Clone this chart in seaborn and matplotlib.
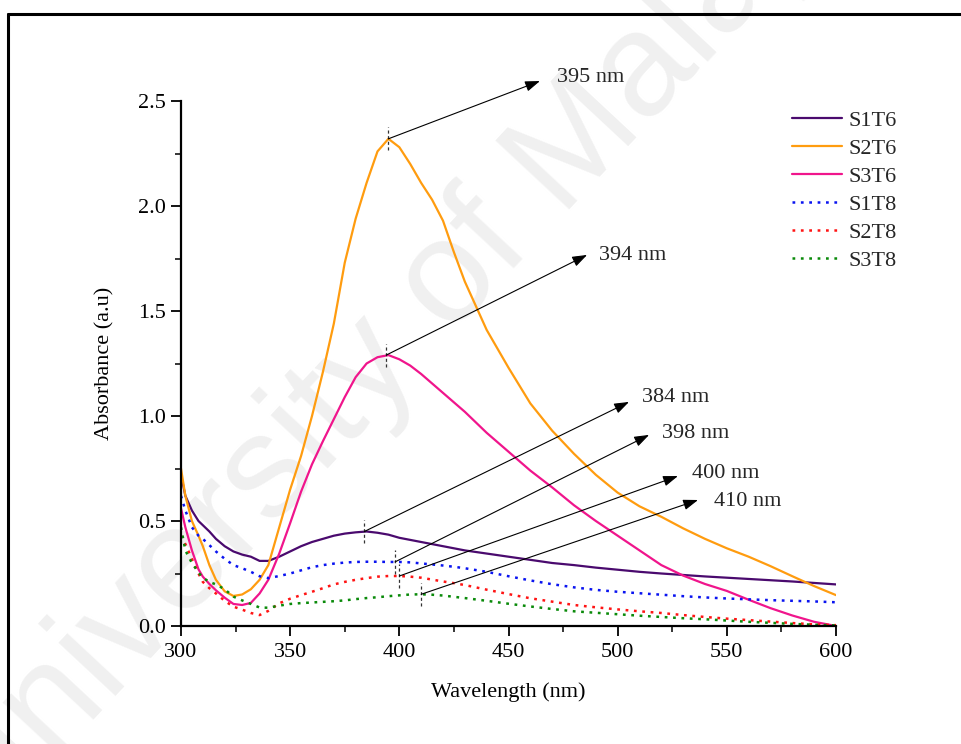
import numpy as np
import pandas as pd
import matplotlib
matplotlib.use("Agg")
import matplotlib.pyplot as plt
from matplotlib.lines import Line2D
from matplotlib.ticker import MultipleLocator
import seaborn as sns

# ---------------- data ----------------
wavelength = [300, 302, 305, 308, 310, 313, 316, 320, 324, 328, 332, 336, 340, 345,
              350, 355, 360, 365, 370, 375, 380, 385, 390, 395, 400, 405, 410, 415, 420,
              425, 430, 440, 450, 460, 470, 480, 490, 500, 510, 520, 530, 540, 550, 560,
              570, 580, 590, 600]

s1t6 = [0.72, 0.62, 0.55, 0.50, 0.48, 0.45, 0.415, 0.38, 0.355, 0.34, 0.33, 0.31, 0.31, 0.33,
        0.355, 0.38, 0.40, 0.415, 0.43, 0.44, 0.446, 0.45, 0.444, 0.435, 0.42, 0.41, 0.40, 0.39, 0.38,
        0.37, 0.36, 0.345, 0.33, 0.315, 0.30, 0.29, 0.278, 0.268, 0.258, 0.25, 0.243, 0.236, 0.23, 0.224,
        0.218, 0.212, 0.205, 0.198]

s2t6 = [0.75, 0.62, 0.50, 0.43, 0.38, 0.29, 0.22, 0.165, 0.143, 0.15, 0.175, 0.22, 0.29, 0.47,
        0.65, 0.81, 1.00, 1.21, 1.44, 1.73, 1.94, 2.11, 2.26, 2.32, 2.28, 2.20, 2.11, 2.03, 1.93,
        1.78, 1.64, 1.41, 1.23, 1.06, 0.93, 0.82, 0.72, 0.635, 0.57, 0.52, 0.465, 0.415, 0.37, 0.33,
        0.285, 0.237, 0.19, 0.147]

s3t6 = [0.56, 0.47, 0.36, 0.27, 0.235, 0.20, 0.17, 0.135, 0.105, 0.10, 0.11, 0.155, 0.22, 0.345,
        0.49, 0.64, 0.77, 0.88, 0.985, 1.09, 1.185, 1.25, 1.28, 1.29, 1.27, 1.24, 1.20, 1.155, 1.11,
        1.065, 1.02, 0.92, 0.83, 0.74, 0.66, 0.575, 0.50, 0.43, 0.36, 0.29, 0.24, 0.20, 0.167, 0.125,
        0.085, 0.05, 0.02, 0.0]

s1t8 = [0.62, 0.55, 0.47, 0.43, 0.415, 0.385, 0.355, 0.32, 0.29, 0.275, 0.258, 0.237, 0.228, 0.238,
        0.25, 0.265, 0.28, 0.29, 0.297, 0.302, 0.305, 0.306, 0.306, 0.305, 0.305, 0.303, 0.298, 0.293, 0.288,
        0.282, 0.275, 0.258, 0.237, 0.217, 0.199, 0.184, 0.172, 0.163, 0.156, 0.149, 0.142, 0.136, 0.131, 0.127,
        0.123, 0.12, 0.117, 0.113]

s2t8 = [0.43, 0.39, 0.32, 0.25, 0.21, 0.18, 0.155, 0.12, 0.092, 0.078, 0.062, 0.052, 0.072, 0.108,
        0.13, 0.147, 0.163, 0.18, 0.198, 0.21, 0.22, 0.228, 0.235, 0.238, 0.238, 0.235, 0.23, 0.221, 0.212,
        0.204, 0.195, 0.173, 0.152, 0.132, 0.116, 0.10, 0.089, 0.079, 0.07, 0.062, 0.052, 0.043, 0.035, 0.028,
        0.021, 0.014, 0.008, 0.004]

s3t8 = [0.47, 0.36, 0.30, 0.255, 0.23, 0.21, 0.198, 0.175, 0.14, 0.122, 0.105, 0.088, 0.087, 0.097,
        0.105, 0.109, 0.112, 0.115, 0.118, 0.122, 0.128, 0.133, 0.137, 0.142, 0.146, 0.15, 0.151, 0.149, 0.145,
        0.139, 0.133, 0.12, 0.106, 0.093, 0.081, 0.07, 0.063, 0.056, 0.049, 0.043, 0.037, 0.032, 0.026, 0.02,
        0.015, 0.01, 0.006, 0.003]

series_names = ["S1T6", "S2T6", "S3T6", "S1T8", "S2T8", "S3T8"]

peak_labels = ["395 nm", "394 nm", "384 nm", "398 nm", "400 nm", "410 nm"]
peak_x = [395, 394, 384, 398, 400, 410]
peak_y = [2.32, 1.29, 0.45, 0.305, 0.238, 0.151]
tip_x = [464.4, 486.0, 505.2, 514.4, 527.6, 536.8]
tip_y = [2.595, 1.767, 1.067, 0.910, 0.714, 0.600]
label_x = [472.3, 491.3, 511.3, 520.4, 534.2, 544.1]
label_y = [2.612, 1.765, 1.090, 0.915, 0.724, 0.591]

x_ticks = [300, 350, 400, 450, 500, 550, 600]
y_ticks = [0.0, 0.5, 1.0, 1.5, 2.0, 2.5]

# ---------------- styling ----------------
sns.set_style("ticks")
plt.rcParams["font.family"] = ["Liberation Serif", "DejaVu Serif"]

FS = 16
colors = ["#4a0a6e", "#ff9c0f", "#f0158c", "#0a14f0", "#ff1414", "#0a8a0a"]
dotted = (0, (1.1, 2.25))
styles = ["-", "-", "-", dotted, dotted, dotted]
widths = [1.6, 1.6, 1.6, 1.8, 1.8, 1.8]

df = pd.DataFrame({"wavelength": wavelength, "S1T6": s1t6, "S2T6": s2t6, "S3T6": s3t6,
                   "S1T8": s1t8, "S2T8": s2t8, "S3T8": s3t8})
long = df.melt(id_vars="wavelength", var_name="sample", value_name="absorbance")

W, H = 961, 744
fig = plt.figure(figsize=(W / 100, H / 100), dpi=100)

# watermark
fig.text(405 / W, 1 - 330 / H, "University of Malaya", rotation=47, fontsize=106,
         color="#f0f0f0", ha="center", va="center", rotation_mode="anchor",
         family="Liberation Sans", zorder=-5)

# frame of the page
fig.add_artist(Line2D([8 / W, 8 / W], [0, 1 - 14 / H], transform=fig.transFigure,
                      color="black", lw=2.2))
fig.add_artist(Line2D([8 / W, 1], [1 - 14 / H, 1 - 14 / H], transform=fig.transFigure,
                      color="black", lw=2.2))

ax = fig.add_axes([181 / W, 118 / H, 655 / W, 525 / H])
ax.patch.set_alpha(0)

handles = []
for name, c, ls, lw in zip(series_names, colors, styles, widths):
    sub = long[long["sample"] == name]
    sns.lineplot(data=sub, x="wavelength", y="absorbance", ax=ax, color=c,
                 linestyle=ls, lw=lw, sort=False, legend=False)
    handles.append(ax.lines[-1])

# annotations
for lab, px, py, tx, ty, lx, ly in zip(peak_labels, peak_x, peak_y, tip_x, tip_y,
                                        label_x, label_y):
    ax.plot([px, px], [py - 0.055, py + 0.055], ls=(0, (2.5, 2.0)), color="#333333",
            lw=0.9, clip_on=False)
    ax.annotate("", xy=(tx, ty), xytext=(px, py), annotation_clip=False,
                arrowprops=dict(arrowstyle="-|>,head_length=0.9,head_width=0.32",
                                color="black", lw=0.8, shrinkA=0, shrinkB=0))
    ax.text(lx, ly, lab, fontsize=FS, ha="left", va="center", clip_on=False)

ax.set_xlim(300, 600)
ax.set_ylim(0, 2.5)
ax.set_xticks(x_ticks)
ax.set_yticks(y_ticks)
ax.set_xticklabels([str(t) for t in x_ticks])
ax.set_yticklabels([f"{t:.1f}" for t in y_ticks])
ax.xaxis.set_minor_locator(MultipleLocator(25))
ax.yaxis.set_minor_locator(MultipleLocator(0.25))
ax.tick_params(axis="both", which="major", direction="out", length=7, width=1.3,
               labelsize=FS, color="black", labelcolor="black")
ax.tick_params(axis="both", which="minor", direction="out", length=4, width=1.1,
               color="black")
ax.tick_params(axis="x", which="major", pad=5)
ax.tick_params(axis="y", which="major", pad=4)
sns.despine(ax=ax)
for sp in ["left", "bottom"]:
    ax.spines[sp].set_linewidth(1.6)
    ax.spines[sp].set_color("black")

ax.set_xlabel("Wavelength (nm)", fontsize=FS, labelpad=15, color="black")
ax.set_ylabel("Absorbance (a.u)", fontsize=FS, labelpad=17, color="black")

leg = ax.legend(handles, series_names, loc="upper left", frameon=False, fontsize=FS,
                bbox_to_anchor=(792 / W, 1 - 110 / H), bbox_transform=fig.transFigure,
                borderpad=0, borderaxespad=0, handlelength=2.25, handletextpad=0.3,
                labelspacing=0.34)

fig.savefig("out.png", dpi=100)
